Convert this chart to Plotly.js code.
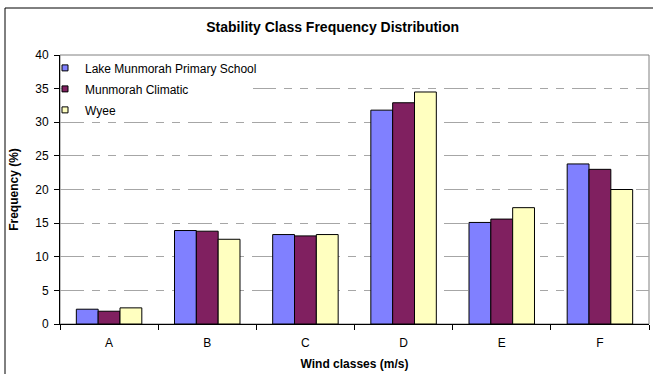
<!DOCTYPE html>
<html>
<head>
<meta charset="utf-8">
<script src="https://cdn.plot.ly/plotly-3.0.1.min.js"></script>
<style>
  html, body { margin: 0; padding: 0; background: #fff; }
  #chart { width: 653px; height: 374px; }
</style>
</head>
<body>
<div id="chart"></div>
<script>
// Stability classes on the x axis
const classes = ['A', 'B', 'C', 'D', 'E', 'F'];

// Frequency (%) of each class per monitoring station
const lakeMunmorahPS = [2.2, 13.9, 13.3, 31.8, 15.1, 23.8];
const munmorahClimatic = [1.9, 13.8, 13.1, 32.9, 15.6, 23.0];
const wyee = [2.4, 12.6, 13.3, 34.5, 17.3, 20.0];

const seriesNames = ['Lake Munmorah Primary School', 'Munmorah Climatic', 'Wyee'];
const seriesColors = ['#8080FF', '#802060', '#FFFFC0'];
const yTicks = [0, 5, 10, 15, 20, 25, 30, 35, 40];

const font = 'Liberation Sans, Arial, sans-serif';
const seriesValues = [lakeMunmorahPS, munmorahClimatic, wyee];

// Bars (legend entries are drawn by the small-square key traces below)
const bars = seriesValues.map((vals, i) => ({
  type: 'bar',
  name: seriesNames[i],
  x: classes,
  y: vals,
  showlegend: false,
  marker: { color: seriesColors[i], line: { color: '#000000', width: 1 } },
  hoverinfo: 'x+y+name'
}));

// Legend keys: small bordered squares, like a spreadsheet chart key
const keys = seriesNames.map((name, i) => ({
  type: 'scatter',
  mode: 'markers',
  name: name,
  x: [null],
  y: [null],
  legendgroup: 'g' + i,
  marker: { symbol: 'square', size: 6, color: seriesColors[i], line: { color: '#000000', width: 1 } },
  hoverinfo: 'skip'
}));

const layout = {
  width: 653,
  height: 374,
  margin: { l: 60, r: 4, t: 55, b: 50 },
  paper_bgcolor: '#ffffff',
  plot_bgcolor: '#ffffff',
  font: { family: font, size: 12, color: '#000000' },
  barmode: 'group',
  bargap: 0.333,
  bargroupgap: 0,
  title: {
    text: '<b>Stability Class Frequency Distribution</b>',
    font: { family: font, size: 14, color: '#000000' },
    x: 0.463, xref: 'paper', xanchor: 'center',
    y: 1 - 27 / 374, yref: 'container', yanchor: 'middle'
  },
  xaxis: {
    type: 'category',
    tickson: 'boundaries',
    ticks: 'outside',
    ticklen: 5,
    tickcolor: '#000000',
    ticklabelstandoff: 8,
    showline: true,
    linecolor: '#000000',
    linewidth: 1,
    showgrid: false,
    tickfont: { family: font, size: 12, color: '#000000' },
    title: {
      text: '<b>Wind classes (m/s)</b>',
      font: { family: font, size: 12, color: '#000000' },
      standoff: 10
    }
  },
  yaxis: {
    range: [0, 40],
    tickvals: yTicks,
    ticktext: yTicks.map(String),
    ticks: 'outside',
    ticklen: 5,
    tickcolor: '#000000',
    ticklabelstandoff: 3,
    showline: true,
    linecolor: '#000000',
    linewidth: 1,
    showgrid: true,
    gridcolor: '#A6A6A6',
    gridwidth: 1,
    griddash: '24px,8px,8px,8px,8px,8px',
    zeroline: false,
    tickfont: { family: font, size: 12, color: '#000000' },
    title: {
      text: '<b>Frequency (%)</b>',
      font: { family: font, size: 12, color: '#000000' },
      standoff: 14
    }
  },
  legend: {
    x: -15 / 589, xanchor: 'left',
    y: 1.006, yanchor: 'top',
    bgcolor: 'rgba(0,0,0,0)',
    borderwidth: 0,
    traceorder: 'grouped',
    tracegroupgap: 2,
    font: { family: font, size: 12, color: '#000000' }
  },
  shapes: [
    // plot area border (top and right edges visible)
    { type: 'rect', xref: 'paper', yref: 'paper', x0: 0, x1: 1, y0: 0, y1: 1,
      line: { color: '#808080', width: 1 }, layer: 'below' },
    // white panel behind the legend text, hiding the gridlines there
    { type: 'rect', xref: 'paper', yref: 'paper', x0: 1.5 / 589, x1: 193 / 589, y0: 206 / 269, y1: 1 - 1.5 / 269,
      fillcolor: '#ffffff', line: { width: 0 }, layer: 'above' },
    // outer chart frame
    { type: 'rect', xref: 'paper', yref: 'paper',
      x0: -55 / 589, x1: 1.02, y0: -0.2, y1: 1 + 47 / 269,
      line: { color: '#000000', width: 1 }, layer: 'below' }
  ],
  showlegend: true
};

Plotly.newPlot('chart', bars.concat(keys), layout, { displayModeBar: false, staticPlot: true });
</script>
</body>
</html>
